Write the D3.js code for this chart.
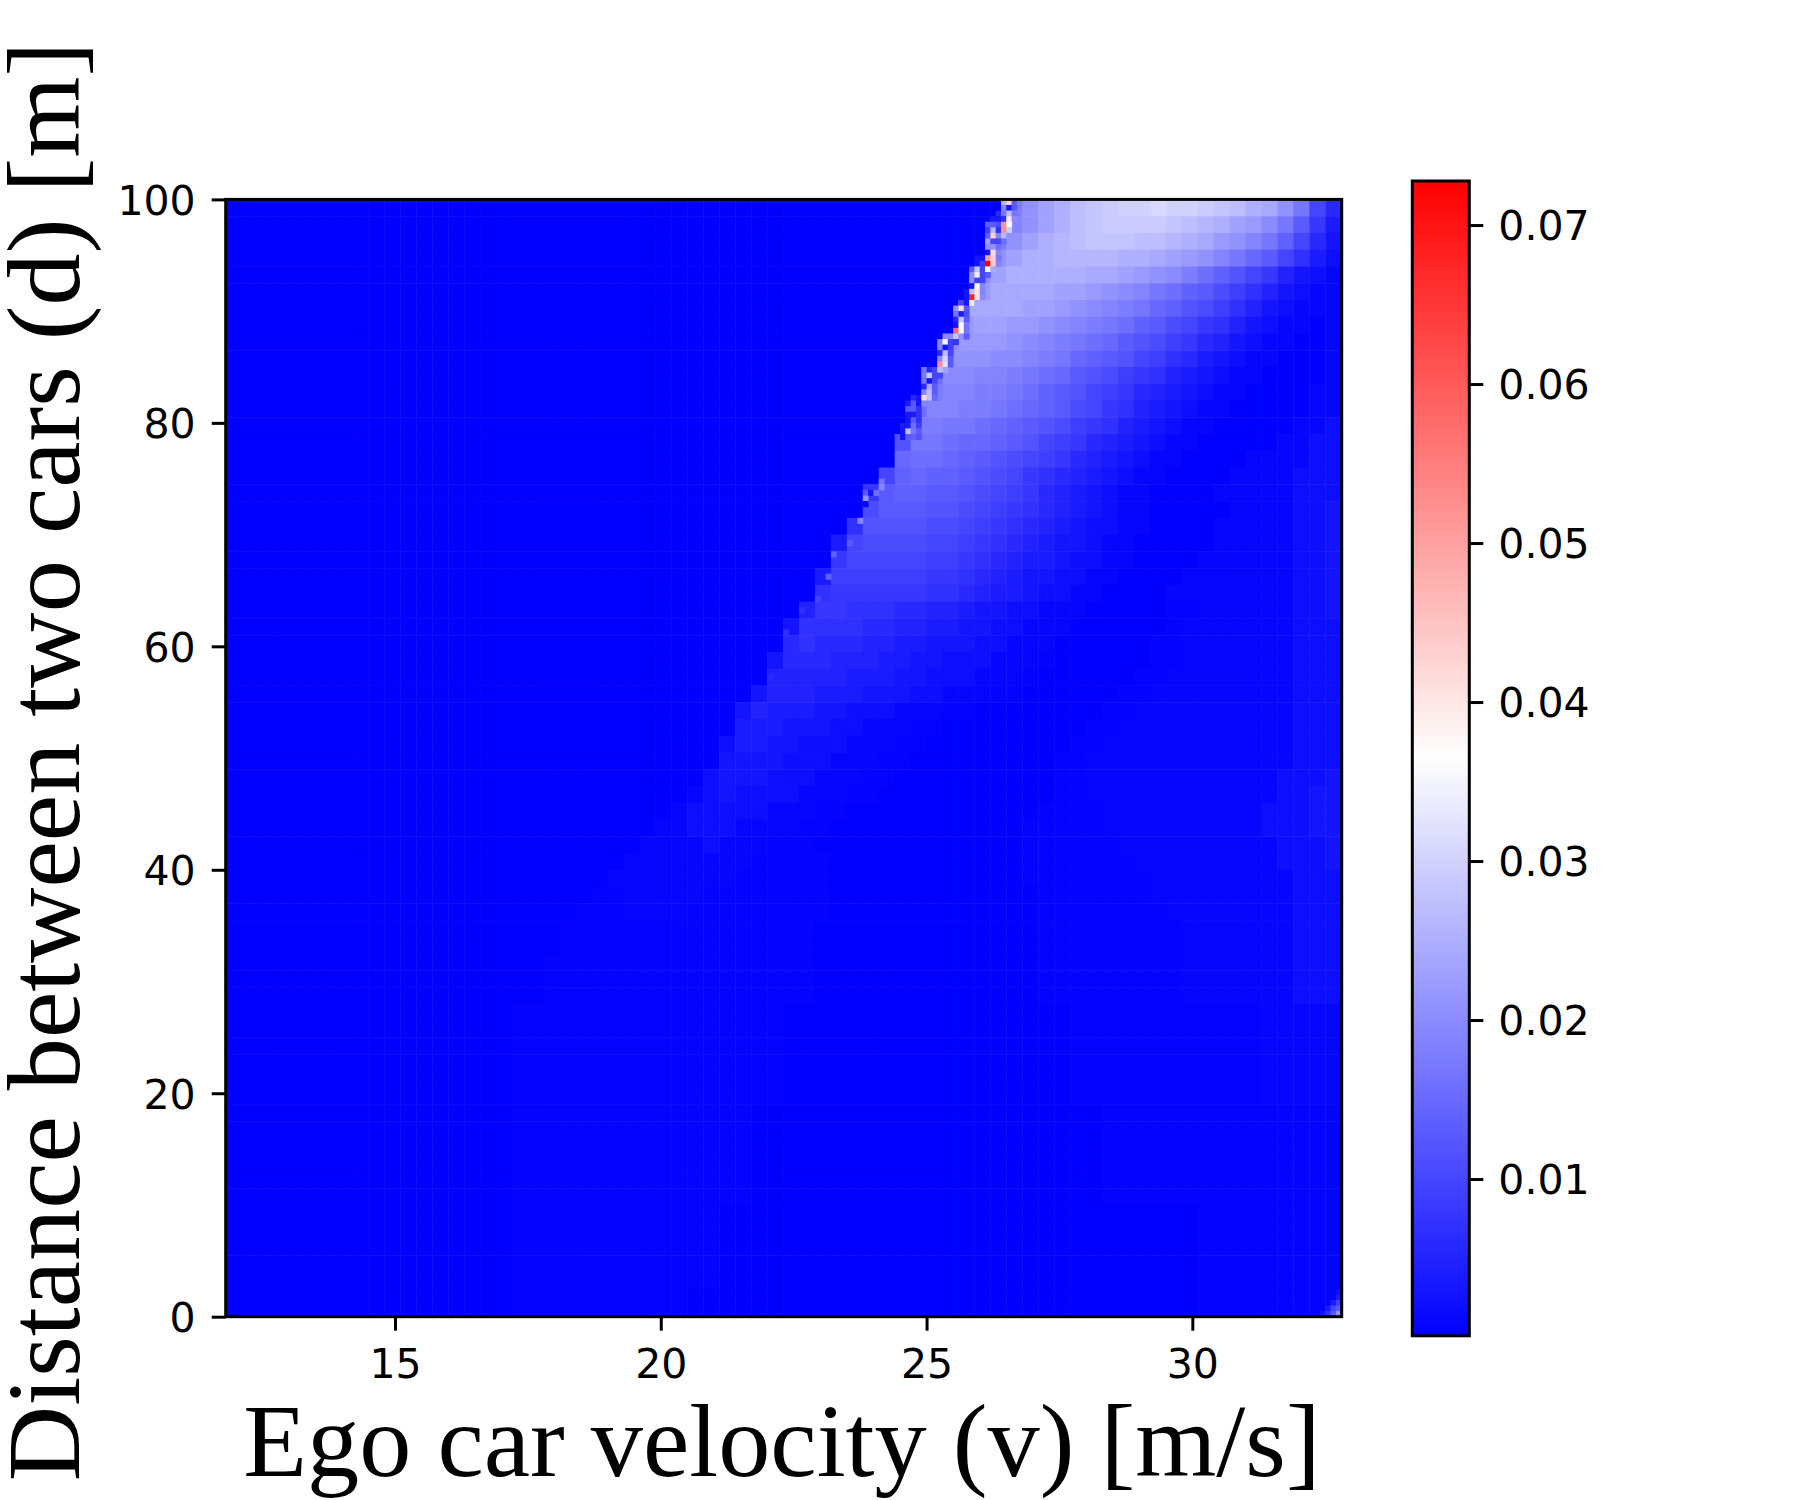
<!DOCTYPE html>
<html>
<head>
<meta charset="utf-8">
<script src="https://cdnjs.cloudflare.com/ajax/libs/d3/7.8.5/d3.min.js"></script>
<style>
  html, body { margin: 0; background: #fff; }
  .tick text { font-family: 'DejaVu Sans', sans-serif; font-size: 41px; fill: #000; }
  .tick line { stroke: #000; stroke-width: 3px; }
  .title { font-family: 'Liberation Serif', serif; font-size: 104.3px; fill: #000; }
</style>
</head>
<body>
<svg id="chart" width="1800" height="1500"></svg>
<script>
const X_TICKS = [15, 20, 25, 30];
const Y_TICKS = [0, 20, 40, 60, 80, 100];
const BAR_TICKS = [0.01, 0.02, 0.03, 0.04, 0.05, 0.06, 0.07];
const RISK_MIN = 0.00014;
const RISK_MAX = 0.07277;

// coarse read of the field, 0.3 m/s by 1.5 m, top row first, right aligned.
// one char per cell: base36 in 0.001 units, ':' is 0.0005, '.' is the minimum
const riskRows = [
  'ilnprstuuvuutsrpolha6',
  'jlnprsttttsrqpnmkhd84',
  'ilnpqrsssrrqpomljhea63',
  'lnppqqqqpponmljhfda742',
  'knpppppoonmlkigeca85321',
  'moooonnmlkjhgedb9753211',
  'oooonnmlkjihfecb97532111',
  'mnnmmlkjihgedba8753211.1',
  'kmmmlkjihgfdcb98653211..1',
  'lllkkjihfedca97643211...1',
  'gkkjjihgfdcb987543211....1',
  'ijjiihgedca986543211....11',
  'gjjiihgfedba87543211.....11',
  'iihhgfedcb987543211.....112',
  'chhgffedca986543211.....1122',
  'fggfedcba986543211....111122',
  'aefeedcba876543211....1111222',
  '8deeddcba986543211....11111222',
  'bdddccba9876543211.....1111223',
  '7ccccbba98765432211....11111223',
  '4abbbbaa98765433211.....11111223',
  '8aaaaa9987654432211....111111223',
  '4999999887654332211....1111111223',
  '788888877654432211....11111111223',
  '588777665543322111.....::111111223',
  '377776655443322111......:1111111222',
  '67666554433322111......::1111111222',
  '36665554433222111:......::1111111222',
  '5555544433222111:......::11111111222',
  '355544433322111::......::111111111222',
  '3544433222111::........::1111111111222',
  '44433322111::.........::11111111111222',
  '24433222111::.........::111111111111222',
  '3333222111::.........::1111111111111222',
  '2333222111::..........::1111111111112223',
  '1232222111::...........::1111111111112233',
  '122222111::............::::111111111122233',
  '112221111::............:::::111111111122233',
  '11112111:::.............::::::11111111112223',
  '11111111:::::............:::::::1111111112223',
  '11111111::::::............::::::::111111111222',
  '::11111::::::::.............:::::::111111111222',
  ':::1111:::::::::.............::::::::11111111222',
  '::::::::::::::::..............:::::::::1111111222',
  '::::::::::::::::..............:::::::::1111111222',
  ':::::::::::::::::..............:::::::::1111111222',
  ':::::::::::::::::..............:::::::::1111111222',
  ':::::::::::::::::..............:::::::::1111111222',
  ':::::::::::::::::..................::::::::::::11111',
  ':::::::::::::::::..................::::::::::::11111',
  ':::::::::::::::::..................::::::::::::11111',
  ':::::::::::::::::..................::::::::::::11111',
  ':::::::::::::::::..................::::::::::::11111',
  ':::::::::::::::::..................::::::::::::11111',
  ':::::::::::::::......................:::::::::::::::',
  ':::::::::::::::......................:::::::::::::::',
  ':::::::::::::::......................:::::::::::::::',
  ':::::::::::::::......................:::::::::::::::',
  ':::::::::::::::......................:::::::::::::::',
  ':::::::::::::::......................:::::::::::::::',
  ':::::::::::::..............................:::::::::',
  ':::::::::::::..............................:::::::::',
  ':::::::::::::..............................:::::::::',
  ':::::::::::::..............................:::::::::',
  ':::::::::::::..............................:::::::::',
  ':::::::::::................................:::::::::',
  ':::::::::::................................:::::::::'
];

// the noisy edge and the corner at full resolution, 0.1 m/s by 0.5 m
// [distance, first speed, values in 0.001 units]
const edgeRows = [
  [99.5, 26.4, [26, 43, 13, 18]],
  [99, 26.4, [19, 3, 13]],
  [98.5, 26.3, [6, 17, 27, 17]],
  [98, 26.2, [4, 4, 7, 40, 20]],
  [97.5, 26.1, [14, 13, 11, 52, 37]],
  [97, 26.1, [9, 26, 7, 52, 29]],
  [96.5, 26.1, [13, 43, 19, 26, 21]],
  [96, 26.1, [23, 10, 10, 16]],
  [95.5, 26.1, [21, 21, 16]],
  [95, 26.1, [3, 42, 19]],
  [94.5, 25.9, [3, 3, 50, 43, 17]],
  [94, 25.9, [3, 9, 72.7, 44, 19]],
  [93.5, 25.8, [13, 28, 10, 37, 24]],
  [93, 25.8, [20, 34, 10, 13]],
  [92.5, 25.8, [20, 9, 10]],
  [92, 25.8, [3, 35, 19]],
  [91.5, 25.7, [3, 27, 40, 19]],
  [91, 25.7, [3, 68, 41, 20]],
  [90.5, 25.6, [10, 3, 33, 24]],
  [90, 25.5, [21, 42, 13]],
  [89.5, 25.5, [17, 4, 11]],
  [89, 25.5, [6, 28, 13]],
  [88.5, 25.5, [3, 36, 17]],
  [88, 25.5, [58, 37, 17]],
  [87.5, 25.5, [28, 21, 13]],
  [87, 25.2, [19, 35, 9, 8]],
  [86.5, 25.2, [19, 3, 9]],
  [86, 25.2, [6, 27, 10]],
  [85.5, 25.2, [20, 30, 13]],
  [85, 25.2, [53, 32, 13]],
  [84.5, 24.9, [17, 6, 10, 27, 23]],
  [84, 24.9, [17, 29, 10, 10]],
  [83.5, 24.9, [17, 3, 10]],
  [83, 24.9, [6, 24, 13]],
  [82.5, 24.9, [19, 27, 13]],
  [82, 24.7, [6, 3, 42, 27, 15]],
  [81.5, 24.6, [4, 13, 3, 19, 19]],
  [81, 24.6, [13, 13, 7]],
  [80.5, 24.6, [4, 4, 7]],
  [80, 24.6, [3, 13, 7]],
  [79.5, 24.5, [4, 4, 16, 9]],
  [79, 24.5, [3, 27, 17, 13]],
  [78.5, 24.5, [3, 13, 14, 12]],
  [74.5, 24.1, [17]],
  [74, 24.1, [19]],
  [73.5, 23.8, [13, 3, 16]],
  [73, 23.8, [21]],
  [72.5, 23.8, [1]],
  [71, 23.7, [19]],
  [69, 23.5, [13]],
  [68, 23.2, [14]],
  [66, 23.1, [14]],
  [64, 22.9, [10]],
  [63, 22.6, [7]],
  [61, 22.3, [7]],
  [57, 22, [6]],
  [2, 32.7, [2]],
  [1.5, 32.7, [4]],
  [1, 32.6, [4, 9]],
  [0.5, 32.5, [4, 10, 13]],
  [0, 32.4, [3, 7, 13, 21]]
];

const COLS = 70;
const X_LABEL = 'Ego car velocity (v) [m/s]';
const Y_LABEL = 'Distance between two cars (d) [m]';

const frame = { left: 225.7, right: 1341.7, top: 199.4, bottom: 1316.7 };
const bar = { left: 1412.3, right: 1469.3, top: 181, bottom: 1335.8 };

const svg = d3.select('#chart');
const x = d3.scaleLinear().domain([11.815, 32.81]).range([frame.left, frame.right]);
const y = d3.scaleLinear().domain([0, 100]).range([frame.bottom, frame.top]);
const barY = d3.scaleLinear().domain([RISK_MIN, RISK_MAX]).range([bar.bottom, bar.top]);
const color = d3.scaleLinear()
  .domain([RISK_MIN, (RISK_MIN + RISK_MAX) / 2, RISK_MAX])
  .range(['#0000ff', '#ffffff', '#ff0000']);

function readLevel(c) {
  if (c === '.') return RISK_MIN;
  if (c === ':') return 0.0005;
  return parseInt(c, 36) / 1000;
}

svg.append('clipPath').attr('id', 'frame-clip').append('rect')
  .attr('x', frame.left).attr('y', frame.top)
  .attr('width', frame.right - frame.left).attr('height', frame.bottom - frame.top);

const cells = [];
riskRows.forEach((row, j) => {
  const padded = row.padStart(COLS, '.');
  padded.split('').forEach((c, i) => {
    const v = 11.8 + 0.3 * i;
    const d = 100 - 1.5 * (j + 1);
    cells.push({ v, d, dv: 0.3, dd: 1.5, value: readLevel(c) });
  });
});
edgeRows.forEach(([d, v0, values]) => {
  values.forEach((val, i) => {
    cells.push({ v: v0 + 0.1 * i, d, dv: 0.1, dd: 0.5, value: val / 1000 });
  });
});

const heat = svg.append('g').attr('clip-path', 'url(#frame-clip)');
heat.selectAll('rect')
  .data(cells)
  .enter()
  .append('rect')
  .attr('x', d => x(d.v))
  .attr('y', d => y(d.d + d.dd))
  .attr('width', d => x(d.v + d.dv) - x(d.v) + 0.5)
  .attr('height', d => y(d.d) - y(d.d + d.dd) + 0.5)
  .attr('fill', d => color(d.value));

svg.append('rect')
  .attr('x', frame.left).attr('y', frame.top)
  .attr('width', frame.right - frame.left).attr('height', frame.bottom - frame.top)
  .attr('fill', 'none').attr('stroke', '#000').attr('stroke-width', 3);

const xAxis = svg.append('g')
  .attr('transform', `translate(0, ${frame.bottom})`)
  .call(d3.axisBottom(x).tickValues(X_TICKS).tickSize(14).tickPadding(18));
const yAxis = svg.append('g')
  .attr('transform', `translate(${frame.left}, 0)`)
  .call(d3.axisLeft(y).tickValues(Y_TICKS).tickSize(14).tickPadding(16));
xAxis.select('.domain').remove();
yAxis.select('.domain').remove();

// colorbar
const stepSize = (RISK_MAX - RISK_MIN) / 256;
const steps = d3.range(256).map(i => RISK_MIN + stepSize * i);
svg.append('g').selectAll('rect')
  .data(steps)
  .enter()
  .append('rect')
  .attr('x', bar.left)
  .attr('y', d => barY(d + stepSize))
  .attr('width', bar.right - bar.left)
  .attr('height', d => barY(d) - barY(d + stepSize))
  .attr('fill', d => color(d + stepSize / 2))
  .attr('shape-rendering', 'crispEdges');
svg.append('rect')
  .attr('x', bar.left).attr('y', bar.top)
  .attr('width', bar.right - bar.left).attr('height', bar.bottom - bar.top)
  .attr('fill', 'none').attr('stroke', '#000').attr('stroke-width', 3);
const barAxis = svg.append('g')
  .attr('transform', `translate(${bar.right}, 0)`)
  .call(d3.axisRight(barY).tickValues(BAR_TICKS).tickFormat(d3.format('.2f')).tickSize(14).tickPadding(15));
barAxis.select('.domain').remove();

svg.selectAll('.tick text').attr('font-family', null).attr('font-size', null);
yAxis.selectAll('.tick text').attr('dy', '0.36em');
barAxis.selectAll('.tick text').attr('dy', '0.36em');

svg.append('text')
  .attr('class', 'title')
  .attr('x', 782)
  .attr('y', 1476)
  .attr('text-anchor', 'middle')
  .text(X_LABEL);

svg.append('text')
  .attr('class', 'title')
  .attr('transform', 'translate(79, 761.5) rotate(-90)')
  .attr('text-anchor', 'middle')
  .text(Y_LABEL);
</script>
</body>
</html>
